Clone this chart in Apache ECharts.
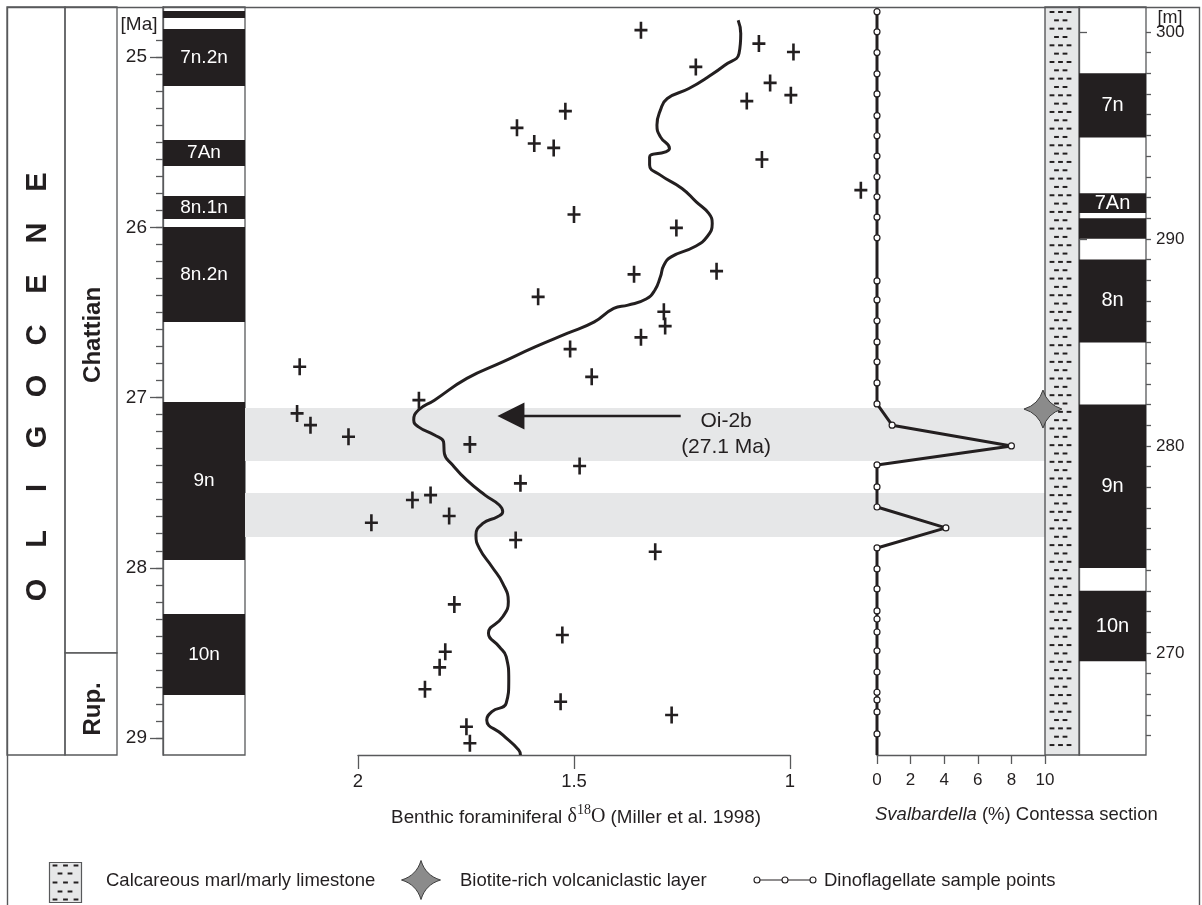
<!DOCTYPE html>
<html>
<head>
<meta charset="utf-8">
<title>Oi-2b event, Contessa section</title>
<script src="https://cdn.jsdelivr.net/npm/echarts@6.0.0/dist/echarts.min.js"></script>
<style>
  html, body { margin: 0; padding: 0; background: #fff; }
  #chart { width: 1202px; height: 905px; }
</style>
</head>
<body>
<div id="chart"></div>
<script>
// ---- data ----
const ageMajorTicks = [25, 26, 27, 28, 29]
const depthMajorTicks = [270, 280, 290, 300]

const epochs = [['OLIGOCENE', 24.705, 29.1]]
const stages = [['Chattian', 24.705, 28.5], ['Rup.', 28.5, 29.1]]

// [label, top age, bottom age] (Ma)
const chronsAge = [
  ['', 24.729, 24.770],
  ['7n.2n', 24.834, 25.169],
  ['7An', 25.486, 25.639],
  ['8n.1n', 25.816, 25.951],
  ['8n.2n', 25.998, 26.556],
  ['9n', 27.026, 27.954],
  ['10n', 28.272, 28.748]
]
// [label, top m, bottom m]
const chronsDepth = [
  ['7n', 298.0, 294.9],
  ['7An', 292.2, 291.25],
  ['', 291.0, 290.0],
  ['8n', 289.0, 285.0],
  ['9n', 282.0, 274.1],
  ['10n', 273.0, 269.6]
]
const bandsAge = [[27.061, 27.373], [27.561, 27.819]]
const lithology = [['Calcareous marl/marly limestone', 265.07, 301.2]]

// benthic d18O (permil) vs age (Ma)
const d18oSamples = [
  [1.345, 24.841], [1.072, 24.920], [0.992, 24.969], [1.218, 25.057], [1.046, 25.151],
  [0.998, 25.223], [1.100, 25.258], [1.520, 25.317], [1.632, 25.415], [1.592, 25.507],
  [1.547, 25.533], [1.065, 25.601], [0.836, 25.781], [1.500, 25.924], [1.263, 26.003],
  [1.170, 26.257], [1.361, 26.276], [1.583, 26.408], [1.292, 26.496], [1.289, 26.580],
  [1.345, 26.646], [1.509, 26.715], [1.459, 26.878], [2.135, 26.819], [1.859, 27.015],
  [2.141, 27.093], [2.110, 27.162], [2.022, 27.230], [1.741, 27.275], [1.487, 27.402],
  [1.624, 27.504], [1.874, 27.602], [1.832, 27.573], [1.789, 27.696], [1.969, 27.735],
  [1.635, 27.837], [1.312, 27.906], [1.777, 28.215], [1.527, 28.395], [1.798, 28.493],
  [1.811, 28.585], [1.845, 28.714], [1.531, 28.787], [1.274, 28.865], [1.749, 28.934],
  [1.741, 29.031]
]
const d18oCurve = [
  [1.120, 24.783], [1.114, 24.861], [1.118, 24.978], [1.151, 25.047], [1.184, 25.106],
  [1.234, 25.184], [1.284, 25.243], [1.300, 25.311], [1.308, 25.399], [1.300, 25.468],
  [1.279, 25.536], [1.288, 25.556], [1.325, 25.586], [1.325, 25.634], [1.300, 25.693],
  [1.250, 25.771], [1.217, 25.850], [1.188, 25.918], [1.180, 25.977], [1.192, 26.055],
  [1.221, 26.114], [1.275, 26.173], [1.292, 26.222], [1.300, 26.290], [1.313, 26.369],
  [1.333, 26.421], [1.375, 26.457], [1.408, 26.476], [1.453, 26.555], [1.516, 26.623],
  [1.590, 26.702], [1.665, 26.790], [1.748, 26.887], [1.823, 27.015], [1.860, 27.073],
  [1.871, 27.132], [1.860, 27.172], [1.823, 27.220], [1.802, 27.260], [1.800, 27.328],
  [1.781, 27.396], [1.748, 27.485], [1.706, 27.573], [1.673, 27.631], [1.665, 27.671],
  [1.677, 27.700], [1.711, 27.739], [1.727, 27.808], [1.719, 27.886], [1.690, 27.994],
  [1.665, 28.091], [1.652, 28.199], [1.665, 28.288], [1.698, 28.385], [1.673, 28.464],
  [1.657, 28.522], [1.651, 28.659], [1.657, 28.796], [1.690, 28.845], [1.702, 28.894],
  [1.665, 28.982], [1.628, 29.070], [1.624, 29.100]
]
// Svalbardella (%) vs depth (m), Contessa section
const svalbardella = [
  [0, 300.97], [0, 300.0], [0, 299.0], [0, 297.97], [0, 297.0], [0, 295.95], [0, 294.98],
  [0, 294.0], [0, 293.0], [0, 292.03], [0, 291.05], [0, 290.05], [0, 287.97], [0, 287.05],
  [0, 286.04], [0, 285.02], [0, 284.06], [0, 283.04], [0, 282.03], [0.9, 281.0], [8.0, 280.0],
  [0, 279.08], [0, 278.02], [0, 277.05], [4.1, 276.04], [0, 275.07], [0, 274.06], [0, 273.09],
  [0, 272.03], [0, 271.64], [0, 271.01], [0, 270.1], [0, 269.08], [0, 268.1], [0, 267.73],
  [0, 267.15], [0, 266.09]
]
const volcanicLayer = [[9.88, 281.78]]
const oi2b = { age: 27.108, from: 1.253, to: 1.646, label: 'Oi-2b\n(27.1 Ma)', labelAt: [1.148, 27.214] }

// ---- styling ----
const INK = '#231f20'
const FRAME = '#58595b'
const GREY = '#e6e7e8'
const FONT = '"Liberation Sans", Arial, sans-serif'
const SERIF = '"Liberation Serif", "Times New Roman", serif'
const AGE_MIN = 24.705, AGE_MAX = 29.1
const DEPTH_MIN = 265.07, DEPTH_MAX = 301.2
const PLUS = 'path://M-1.3,-8.5L1.3,-8.5L1.3,-1.3L6.5,-1.3L6.5,1.3L1.3,1.3L1.3,8.5L-1.3,8.5L-1.3,1.3L-6.5,1.3L-6.5,-1.3L-1.3,-1.3Z'
const STAR = 'path://M0,-10Q2.3,-2.3,10,0Q2.3,2.3,0,10Q-2.3,2.3,-10,0Q-2.3,-2.3,0,-10Z'

const ageMinorTicks = []
for (let t = 249; t <= 290; t++) ageMinorTicks.push(t / 10)
const depthMinorTicks = []
for (let d = 266; d <= 300; d++) depthMinorTicks.push(d)

function grid(left, width, border) {
  return { left: left, width: width, top: 7, height: 748, show: !!border, borderColor: FRAME, borderWidth: 1.3, backgroundColor: 'transparent', outerBoundsMode: 'none' }
}
function hiddenX(gi) { return { type: 'value', gridIndex: gi, min: 0, max: 1, show: false } }
function ageY(gi, extra) {
  return Object.assign({ type: 'value', gridIndex: gi, inverse: true, min: AGE_MIN, max: AGE_MAX, show: false, splitLine: { show: false } }, extra || {})
}
function depthY(gi, extra) {
  return Object.assign({ type: 'value', gridIndex: gi, min: DEPTH_MIN, max: DEPTH_MAX, show: false, splitLine: { show: false } }, extra || {})
}

function blockRenderer(list, fill, fontSize) {
  return function (params, api) {
    const c = list[params.dataIndex]
    const cs = params.coordSys
    const y0 = api.coord([0, c[1]])[1]
    const y1 = api.coord([0, c[2]])[1]
    const el = {
      type: 'rect',
      shape: { x: cs.x, y: Math.min(y0, y1), width: cs.width, height: Math.abs(y1 - y0) },
      style: { fill: fill }
    }
    if (c[0]) {
      el.textContent = { style: { text: c[0], fill: '#fff', fontSize: fontSize, fontFamily: FONT } }
      el.textConfig = { position: 'inside' }
    }
    return el
  }
}

function columnTextRenderer(list, fontSize, spaced) {
  return function (params, api) {
    const c = list[params.dataIndex]
    const cs = params.coordSys
    const y0 = api.coord([0, c[1]])[1]
    const y1 = api.coord([0, c[2]])[1]
    const children = [{
      type: 'rect',
      shape: { x: cs.x, y: y0, width: cs.width, height: y1 - y0 },
      style: { fill: 'none', stroke: FRAME, lineWidth: 1.3 }
    }]
    const mid = (y0 + y1) / 2
    const letters = spaced ? c[0].split('') : [c[0]]
    const step = 51
    letters.forEach(function (ch, i) {
      children.push({
        type: 'text',
        x: cs.x + cs.width / 2 + 2,
        y: mid + 5 + ((letters.length - 1) / 2 - i) * step,
        rotation: Math.PI / 2,
        style: { text: ch, fill: INK, fontSize: fontSize, fontWeight: 'bold', fontFamily: FONT, align: 'center', verticalAlign: 'middle' }
      })
    })
    return { type: 'group', children: children }
  }
}

function marlRenderer(params, api) {
  const u = lithology[params.dataIndex]
  const cs = params.coordSys
  const yTop = api.coord([0, u[2]])[1]
  const yBot = api.coord([0, u[1]])[1]
  const children = [{
    type: 'rect',
    shape: { x: cs.x, y: yTop, width: cs.width, height: yBot - yTop },
    style: { fill: GREY, stroke: FRAME, lineWidth: 1.4 }
  }]
  let row = 0
  for (let y = yTop + 5; y < yBot - 3; y += 8.33, row++) {
    const xs = row % 2 ? [11.5, 20] : [7, 15.5, 24]
    xs.forEach(function (x) {
      children.push({ type: 'rect', shape: { x: cs.x + x - 2.4, y: y - 1, width: 4.8, height: 2 }, style: { fill: INK } })
    })
  }
  return { type: 'group', children: children }
}

// four-point star outline for the legend (quadratic edges sampled)
function starPoints(cx, cy, r, k) {
  const tips = [[0, -1], [1, 0], [0, 1], [-1, 0]]
  const pts = []
  for (let i = 0; i < 4; i++) {
    const a = tips[i], b = tips[(i + 1) % 4]
    const c = [(a[0] + b[0]) * k, (a[1] + b[1]) * k]
    for (let s = 0; s < 8; s++) {
      const t = s / 8
      const x = (1 - t) * (1 - t) * a[0] + 2 * (1 - t) * t * c[0] + t * t * b[0]
      const y = (1 - t) * (1 - t) * a[1] + 2 * (1 - t) * t * c[1] + t * t * b[1]
      pts.push([cx + x * r, cy + y * r])
    }
  }
  return pts
}

// legend drawn as graphic
const legendItems = []
;(function () {
  const box = [{ type: 'rect', shape: { x: 49.5, y: 862.5, width: 32, height: 40 }, style: { fill: GREY, stroke: FRAME, lineWidth: 1.2 } }]
  const rows = [865.5, 873.5, 882.5, 891.5, 899.5]
  rows.forEach(function (y, r) {
    const xs = r % 2 ? [60, 70] : [55, 65.5, 76]
    xs.forEach(function (x) {
      box.push({ type: 'rect', shape: { x: x - 2.4, y: y - 1, width: 4.8, height: 2 }, style: { fill: INK } })
    })
  })
  legendItems.push({ type: 'group', children: box })
  legendItems.push({ type: 'text', x: 106, y: 881, style: { text: 'Calcareous marl/marly limestone', fill: INK, fontSize: 18.5, fontFamily: FONT, align: 'left', verticalAlign: 'middle' } })
  legendItems.push({ type: 'polygon', shape: { points: starPoints(421, 880, 19.5, 0.23) }, style: { fill: '#8b8b8b', stroke: '#3d3d3d', lineWidth: 1 } })
  legendItems.push({ type: 'text', x: 460, y: 881, style: { text: 'Biotite-rich volcaniclastic layer', fill: INK, fontSize: 18.5, fontFamily: FONT, align: 'left', verticalAlign: 'middle' } })
  legendItems.push({ type: 'line', shape: { x1: 757, y1: 880, x2: 813, y2: 880 }, style: { stroke: INK, lineWidth: 1.2 } })
  ;[757, 785, 813].forEach(function (x) {
    legendItems.push({ type: 'circle', shape: { cx: x, cy: 880, r: 3 }, style: { fill: '#fff', stroke: INK, lineWidth: 1.1 } })
  })
  legendItems.push({ type: 'text', x: 824, y: 881, style: { text: 'Dinoflagellate sample points', fill: INK, fontSize: 18.5, fontFamily: FONT, align: 'left', verticalAlign: 'middle' } })
})()

const chart = echarts.init(document.getElementById('chart'), null, { renderer: 'canvas' })

chart.setOption({
  animation: false,
  backgroundColor: '#fff',
  textStyle: { fontFamily: FONT, color: INK },
  grid: [
    grid(163, 82, true),   // 0 chrons (age)
    grid(65, 52),          // 1 stages
    grid(7, 58),           // 2 epoch
    grid(245, 800),        // 3 grey bands
    grid(250, 648),        // 4 d18O data
    grid(358, 432),        // 5 d18O axis
    grid(877, 168),        // 6 Svalbardella
    grid(1045, 34),        // 7 lithology
    grid(1079, 67, true)   // 8 chrons (depth)
  ],
  xAxis: [
    hiddenX(0), hiddenX(1), hiddenX(2), hiddenX(3),
    { type: 'value', gridIndex: 4, min: 0.75, max: 2.25, inverse: true, show: false },
    {
      type: 'value', gridIndex: 5, min: 1, max: 2, interval: 0.5, inverse: true, position: 'bottom',
      axisLine: { lineStyle: { color: FRAME, width: 1.3 } },
      axisTick: { length: 14, lineStyle: { color: FRAME, width: 1.3 } },
      axisLabel: { fontSize: 18.5, color: INK, margin: 17, formatter: function (v) { return String(v) } },
      splitLine: { show: false }
    },
    {
      type: 'value', gridIndex: 6, min: 0, max: 10, interval: 2, position: 'bottom',
      axisLine: { lineStyle: { color: FRAME, width: 1.3 } },
      axisTick: { length: 9, lineStyle: { color: FRAME, width: 1.3 } },
      axisLabel: { fontSize: 17, color: INK, margin: 17 },
      splitLine: { show: false }
    },
    hiddenX(7), hiddenX(8)
  ],
  yAxis: [
    ageY(0, {
      show: true, position: 'left',
      axisLine: { show: true, lineStyle: { color: FRAME, width: 1.3 } },
      axisTick: { show: true, length: 13, customValues: ageMajorTicks, lineStyle: { color: FRAME, width: 1.3 } },
      axisLabel: { show: true, customValues: ageMajorTicks, fontSize: 19, color: INK, margin: 16 }
    }),
    ageY(0, {
      show: true, position: 'left',
      axisLine: { show: false },
      axisTick: { show: true, length: 7, customValues: ageMinorTicks, lineStyle: { color: FRAME, width: 1.3 } },
      axisLabel: { show: false }
    }),
    ageY(1), ageY(2), ageY(3), ageY(4), ageY(5),
    depthY(6), depthY(7),
    depthY(8, {
      show: true, position: 'right',
      axisLine: { show: true, lineStyle: { color: FRAME, width: 1.3 } },
      axisTick: { show: true, length: 8, customValues: depthMajorTicks, lineStyle: { color: FRAME, width: 1.3 } },
      axisLabel: { show: true, customValues: depthMajorTicks, fontSize: 17, color: INK, margin: 10 }
    }),
    depthY(8, {
      show: true, position: 'right',
      axisLine: { show: false },
      axisTick: { show: true, length: 5, customValues: depthMinorTicks, lineStyle: { color: FRAME, width: 1.3 } },
      axisLabel: { show: false }
    })
  ],
  series: [
    {
      name: 'Chrons (age)', type: 'custom', xAxisIndex: 0, yAxisIndex: 0, z: 3,
      renderItem: blockRenderer(chronsAge, INK, 19),
      data: chronsAge.map(function (c) { return [0, c[1], c[2]] }),
      encode: { x: 0, y: [1, 2] }
    },
    {
      name: 'Stages', type: 'custom', xAxisIndex: 1, yAxisIndex: 2, z: 3,
      renderItem: columnTextRenderer(stages, 24, false),
      data: stages.map(function (c) { return [0, c[1], c[2]] }),
      encode: { x: 0, y: [1, 2] }
    },
    {
      name: 'Epoch', type: 'custom', xAxisIndex: 2, yAxisIndex: 3, z: 3,
      renderItem: columnTextRenderer(epochs, 29, true),
      data: epochs.map(function (c) { return [0, c[1], c[2]] }),
      encode: { x: 0, y: [1, 2] }
    },
    {
      name: 'Bands', type: 'custom', xAxisIndex: 3, yAxisIndex: 4, z: 1,
      renderItem: blockRenderer(bandsAge.map(function (b) { return ['', b[0], b[1]] }), GREY, 0),
      data: bandsAge.map(function (b) { return [0, b[0], b[1]] }),
      encode: { x: 0, y: [1, 2] }
    },
    {
      name: 'Benthic d18O', type: 'scatter', xAxisIndex: 4, yAxisIndex: 5, z: 4, clip: false,
      symbol: PLUS, symbolSize: [13, 17],
      itemStyle: { color: INK, opacity: 1 },
      data: d18oSamples
    },
    {
      name: 'Benthic d18O smoothed', type: 'line', xAxisIndex: 4, yAxisIndex: 5, z: 5,
      smooth: 0.5, showSymbol: false, symbol: 'none',
      lineStyle: { color: INK, width: 3 },
      data: d18oCurve,
      markLine: {
        silent: true, animation: false,
        symbol: ['none', 'triangle'], symbolSize: 27,
        lineStyle: { color: INK, width: 2.3, type: 'solid' },
        itemStyle: { color: INK },
        label: { show: false },
        data: [[{ coord: [oi2b.from, oi2b.age] }, { coord: [oi2b.to, oi2b.age] }]]
      },
      markPoint: {
        silent: true, animation: false,
        symbol: 'circle', symbolSize: 1,
        itemStyle: { color: 'rgba(0,0,0,0)' },
        label: { show: true, position: 'inside', color: INK, fontSize: 21, lineHeight: 26, fontFamily: FONT, formatter: oi2b.label },
        data: [{ coord: oi2b.labelAt }]
      }
    },
    {
      name: 'Svalbardella', type: 'line', xAxisIndex: 6, yAxisIndex: 7, z: 5,
      symbol: 'circle', symbolSize: 6, showAllSymbol: true,
      itemStyle: { color: '#fff', borderColor: INK, borderWidth: 1.2 },
      lineStyle: { color: INK, width: 3 },
      data: [{ value: [0, DEPTH_MAX], symbol: 'none' }]
        .concat(svalbardella.map(function (p) { return p.slice() }))
        .concat([{ value: [0, DEPTH_MIN], symbol: 'none' }])
    },
    {
      name: 'Lithology', type: 'custom', xAxisIndex: 7, yAxisIndex: 8, z: 3,
      renderItem: marlRenderer,
      data: lithology.map(function (u) { return [0, u[1], u[2]] }),
      encode: { x: 0, y: [1, 2] }
    },
    {
      name: 'Chrons (depth)', type: 'custom', xAxisIndex: 8, yAxisIndex: 9, z: 3,
      renderItem: blockRenderer(chronsDepth, INK, 20),
      data: chronsDepth.map(function (c) { return [0, c[1], c[2]] }),
      encode: { x: 0, y: [1, 2] }
    },
    {
      name: 'Biotite-rich volcaniclastic layer', type: 'scatter', xAxisIndex: 6, yAxisIndex: 7, z: 10, clip: false,
      symbol: STAR, symbolSize: 38,
      itemStyle: { color: '#8b8b8b', borderColor: '#3d3d3d', borderWidth: 1, opacity: 1 },
      data: volcanicLayer
    }
  ],
  graphic: [
    { type: 'rect', shape: { x: 7.5, y: 7.5, width: 1192, height: 1000 }, style: { fill: 'none', stroke: FRAME, lineWidth: 1.4 }, z: 20 },
    { type: 'text', x: 139, y: 25, z: 20, style: { text: '[Ma]', fill: INK, fontSize: 19, fontFamily: FONT, align: 'center', verticalAlign: 'middle' } },
    { type: 'text', x: 1170, y: 18, z: 20, style: { text: '[m]', fill: INK, fontSize: 18, fontFamily: FONT, align: 'center', verticalAlign: 'middle' } },
    {
      type: 'text', x: 576, y: 815, z: 20,
      style: {
        text: '{a|Benthic foraminiferal }{d|δ}{s|18}{d|O}{a| (Miller et al. 1998)}',
        align: 'center', verticalAlign: 'middle',
        rich: {
          a: { fontSize: 18.8, fontFamily: FONT, fill: INK, lineHeight: 24, verticalAlign: 'bottom' },
          d: { fontSize: 20, fontFamily: SERIF, fill: INK, lineHeight: 24, verticalAlign: 'bottom' },
          s: { fontSize: 14, fontFamily: SERIF, fill: INK, lineHeight: 16, verticalAlign: 'top' }
        }
      }
    },
    {
      type: 'text', x: 875, y: 815, z: 20,
      style: {
        text: '{i|Svalbardella}{a| (%) Contessa section}',
        align: 'left', verticalAlign: 'middle',
        rich: {
          i: { fontSize: 18.5, fontFamily: FONT, fontStyle: 'italic', fill: INK },
          a: { fontSize: 18.5, fontFamily: FONT, fill: INK }
        }
      }
    }
  ].concat(legendItems)
})
</script>
</body>
</html>
